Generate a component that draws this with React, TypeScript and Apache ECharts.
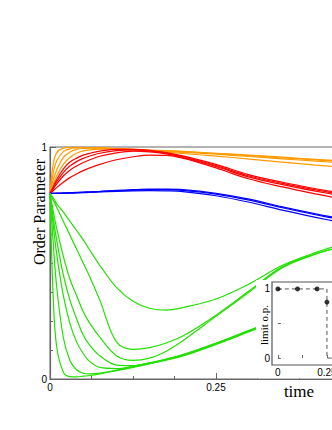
import React, { useEffect, useRef } from "react";
import * as echarts from "echarts";

// time samples (main plot)
const T = [0, 0.005, 0.01, 0.02, 0.03, 0.04, 0.05, 0.06, 0.075, 0.1, 0.125, 0.15, 0.175, 0.2, 0.25, 0.3, 0.35, 0.4, 0.45];

// orange curves
const O1 = [0.8, 0.93, 0.975, 0.995, 0.998, 0.998, 0.998, 0.997, 0.996, 0.993, 0.99, 0.987, 0.984, 0.981, 0.973, 0.965, 0.956, 0.947, 0.938];
const O2 = [0.8, 0.89, 0.94, 0.98, 0.992, 0.996, 0.997, 0.997, 0.996, 0.993, 0.99, 0.986, 0.983, 0.98, 0.972, 0.963, 0.953, 0.944, 0.935];
const O3 = [0.8, 0.86, 0.9, 0.955, 0.978, 0.99, 0.994, 0.995, 0.995, 0.992, 0.988, 0.985, 0.981, 0.977, 0.969, 0.959, 0.949, 0.939, 0.93];
const O4 = [0.8, 0.84, 0.875, 0.925, 0.955, 0.973, 0.983, 0.988, 0.991, 0.99, 0.986, 0.982, 0.977, 0.972, 0.961, 0.948, 0.935, 0.922, 0.91];

// red curves
const R1 = [0.8, 0.83, 0.86, 0.905, 0.935, 0.952, 0.965, 0.973, 0.982, 0.99, 0.99, 0.986, 0.976, 0.962, 0.925, 0.88, 0.848, 0.82, 0.795];
const R2 = [0.8, 0.825, 0.85, 0.89, 0.918, 0.937, 0.951, 0.961, 0.973, 0.984, 0.987, 0.983, 0.973, 0.958, 0.92, 0.875, 0.843, 0.815, 0.79];
const R3 = [0.8, 0.82, 0.84, 0.875, 0.9, 0.918, 0.933, 0.945, 0.96, 0.975, 0.982, 0.979, 0.97, 0.955, 0.916, 0.87, 0.838, 0.81, 0.784];
const R4 = [0.8, 0.812, 0.825, 0.848, 0.868, 0.884, 0.898, 0.91, 0.925, 0.945, 0.958, 0.965, 0.964, 0.952, 0.91, 0.862, 0.828, 0.798, 0.77];

// blue curves
const B1 = [0.8, 0.8, 0.801, 0.802, 0.803, 0.804, 0.806, 0.807, 0.809, 0.813, 0.816, 0.818, 0.818, 0.816, 0.8, 0.775, 0.742, 0.712, 0.685];
const B2 = [0.8, 0.8, 0.8, 0.801, 0.802, 0.803, 0.805, 0.806, 0.808, 0.811, 0.814, 0.816, 0.816, 0.813, 0.797, 0.771, 0.738, 0.708, 0.68];
const B3 = [0.8, 0.8, 0.8, 0.8, 0.801, 0.802, 0.803, 0.804, 0.806, 0.809, 0.811, 0.812, 0.811, 0.808, 0.79, 0.762, 0.728, 0.697, 0.668];

// green curves
const G1 = [0.8, 0.78, 0.755, 0.72, 0.68, 0.64, 0.6, 0.555, 0.49, 0.395, 0.335, 0.305, 0.297, 0.308, 0.345, 0.41, 0.49, 0.545, 0.59];
const G2 = [0.8, 0.77, 0.74, 0.68, 0.62, 0.56, 0.5, 0.44, 0.34, 0.16, 0.128, 0.135, 0.155, 0.185, 0.275, 0.38, 0.485, 0.54, 0.58];
const G3 = [0.8, 0.72, 0.65, 0.53, 0.43, 0.36, 0.29, 0.24, 0.18, 0.1, 0.08, 0.09, 0.12, 0.165, 0.27, 0.375, 0.48, 0.538, 0.578];
const G4 = [0.8, 0.69, 0.6, 0.45, 0.34, 0.26, 0.19, 0.145, 0.1, 0.06, 0.058, 0.07, 0.086, 0.105, 0.155, 0.21, 0.265, 0.32, 0.37];
const G5 = [0.8, 0.66, 0.54, 0.36, 0.24, 0.16, 0.11, 0.075, 0.05, 0.045, 0.055, 0.069, 0.085, 0.103, 0.153, 0.208, 0.263, 0.318, 0.368];
const G6 = [0.8, 0.58, 0.4, 0.18, 0.08, 0.04, 0.025, 0.022, 0.025, 0.038, 0.052, 0.067, 0.083, 0.101, 0.151, 0.206, 0.261, 0.316, 0.366];
const G7 = [0.8, 0.34, 0.14, 0.03, 0.01, 0.009, 0.012, 0.015, 0.022, 0.036, 0.05, 0.065, 0.081, 0.099, 0.149, 0.204, 0.259, 0.314, 0.364];

// inset data
const LIMIT_T = [0, 0.1, 0.2, 0.25];
const LIMIT_OP = [1, 1, 1, 0.81];
const STEP_T = [0, 0.25, 0.25, 0.5];
const STEP_V = [1, 1, 0, 0];

// tick labels
const MAIN_X_LABELS = [0, 0.25];
const MAIN_Y_LABELS = [0, 1];
const INSET_X_LABELS = [0, 0.25];
const INSET_Y_LABELS = [0, 1];

const ORANGE = "#ff9a00";
const RED = "#ff0000";
const BLUE = "#0000ff";
const GREEN = "#22e000";
const AXIS = "#666";

export default function App() {
  const ref = useRef<HTMLDivElement>(null);
  useEffect(() => {
    const chart = echarts.init(ref.current as HTMLDivElement, null, { renderer: "svg" });
    const mk = (vals: number[], color: string) => ({
      type: "line",
      xAxisIndex: 0,
      yAxisIndex: 0,
      data: T.map((t, i) => [t, vals[i]]),
      symbol: "none",
      showSymbol: false,
      smooth: 0.35,
      silent: true,
      lineStyle: { color, width: 1.2 },
      z: 2,
    });
    const labelStyle = { fontSize: 10, color: "#000", fontFamily: "Liberation Sans" };
    const option: any = {
      animation: false,
      grid: [
        { left: 50, top: 147, width: 332, height: 232, show: true, borderColor: AXIS, borderWidth: 1, backgroundColor: "transparent" },
        { left: 272, top: 282, width: 104, height: 83 },
      ],
      xAxis: [
        {
          gridIndex: 0, type: "value", min: 0, max: 0.5, interval: 0.25,
          axisLine: { show: true, onZero: false, lineStyle: { color: AXIS, width: 1.2 } },
          axisTick: { show: true, inside: true, length: 6, lineStyle: { color: AXIS } },
          minorTick: { show: true, splitNumber: 4, length: 3, lineStyle: { color: AXIS } },
          splitLine: { show: false },
          axisLabel: { ...labelStyle, margin: 3, customValues: MAIN_X_LABELS },
        },
        {
          gridIndex: 1, type: "value", min: -0.03, max: 0.5, z: 10,
          axisLine: { show: false },
          axisTick: { show: true, inside: true, length: 3, customValues: [0, 0.125, 0.25], lineStyle: { color: AXIS } },
          splitLine: { show: false },
          axisLabel: { ...labelStyle, margin: 2, customValues: INSET_X_LABELS },
        },
      ],
      yAxis: [
        {
          gridIndex: 0, type: "value", min: 0, max: 1, interval: 1,
          axisLine: { show: true, onZero: false, lineStyle: { color: AXIS, width: 1.2 } },
          axisTick: { show: true, inside: true, length: 6, lineStyle: { color: AXIS } },
          minorTick: { show: true, splitNumber: 8, length: 3, lineStyle: { color: AXIS } },
          splitLine: { show: false },
          axisLabel: { ...labelStyle, margin: 3, customValues: MAIN_Y_LABELS },
        },
        {
          gridIndex: 1, type: "value", min: -0.1, max: 1.1, z: 10,
          axisLine: { show: false },
          axisTick: { show: true, inside: true, length: 3, customValues: [0, 0.5, 1], lineStyle: { color: AXIS } },
          splitLine: { show: false },
          axisLabel: { ...labelStyle, margin: 2, customValues: INSET_Y_LABELS },
        },
      ],
      graphic: [
        { type: "rect", z: 5, silent: true, shape: { x: 256, y: 280, width: 170, height: 98.3 }, style: { fill: "#fff" } },
        { type: "rect", z: 6, silent: true, shape: { x: 272, y: 282, width: 160, height: 83 }, style: { fill: "none", stroke: "#555", lineWidth: 1.2 } },
        { type: "text", z: 10, x: 39, y: 212, rotation: Math.PI / 2, style: { text: "Order Parameter", fontSize: 16, fontFamily: "Liberation Serif", fill: "#000", align: "center", verticalAlign: "middle" } },
        { type: "text", z: 10, x: 299, y: 391, style: { text: "time", fontSize: 17, fontFamily: "Liberation Serif", fill: "#000", align: "center", verticalAlign: "middle" } },
        { type: "text", z: 10, x: 264, y: 325, rotation: Math.PI / 2, style: { text: "limit o.p.", fontSize: 11, fontFamily: "Liberation Serif", fill: "#000", align: "center", verticalAlign: "middle" } },
      ],
      series: [
        mk(O1, ORANGE), mk(O2, ORANGE), mk(O3, ORANGE), mk(O4, ORANGE),
        mk(R1, RED), mk(R2, RED), mk(R3, RED), mk(R4, RED),
        mk(B1, BLUE), mk(B2, BLUE), mk(B3, BLUE),
        mk(G1, GREEN), mk(G2, GREEN), mk(G3, GREEN), mk(G4, GREEN), mk(G5, GREEN), mk(G6, GREEN), mk(G7, GREEN),
        {
          type: "line", xAxisIndex: 1, yAxisIndex: 1, z: 10, silent: true,
          data: STEP_T.map((t, i) => [t, STEP_V[i]]),
          symbol: "none", lineStyle: { color: "#555", width: 1, type: [4, 3] },
        },
        {
          type: "scatter", xAxisIndex: 1, yAxisIndex: 1, z: 11, silent: true,
          data: LIMIT_T.map((t, i) => [t, LIMIT_OP[i]]),
          symbol: "circle", symbolSize: 5, itemStyle: { color: "#000" },
        },
      ],
    };
    chart.setOption(option);
    return () => chart.dispose();
  }, []);
  return (
    <div style={{ position: "fixed", left: 0, top: 0, width: 332, height: 430, overflow: "hidden", background: "#fff" }}>
      <div ref={ref} style={{ width: 420, height: 430 }} />
    </div>
  );
}
